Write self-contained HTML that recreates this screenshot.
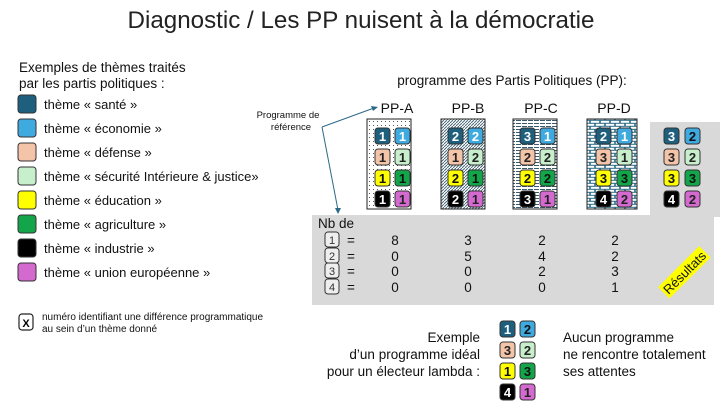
<!DOCTYPE html>
<html><head><meta charset="utf-8"><style>
html,body{margin:0;padding:0;background:#fff;}
svg{display:block;font-family:"Liberation Sans",Arial,sans-serif;}
</style></head><body>
<svg width="720" height="405" viewBox="0 0 720 405" xmlns="http://www.w3.org/2000/svg">
<defs>
<pattern id="dots" width="4" height="4" patternUnits="userSpaceOnUse"><rect width="4" height="4" fill="#fff"/><rect x="1" y="1" width="1" height="1" fill="#555"/></pattern>
<pattern id="diag" width="3" height="3" patternUnits="userSpaceOnUse"><rect width="3" height="3" fill="#fff"/><path d="M0,3 L3,0" stroke="#4a6a7a" stroke-width="1"/></pattern>
<pattern id="horiz" width="6" height="3" patternUnits="userSpaceOnUse"><rect width="6" height="3" fill="#fff"/><rect y="0" width="5" height="1" fill="#3a5a6e"/></pattern>
<pattern id="brick" width="10" height="6" patternUnits="userSpaceOnUse"><rect width="10" height="6" fill="#2b6a86"/><rect x="0.8" y="0.8" width="8.4" height="2" fill="#fff"/><rect x="5.8" y="3.8" width="8.4" height="2" fill="#fff"/><rect x="-4.2" y="3.8" width="8.4" height="2" fill="#fff"/></pattern>
</defs>
<rect width="720" height="405" fill="#fff"/>
<text x="361" y="28" font-size="24" text-anchor="middle" textLength="467" lengthAdjust="spacingAndGlyphs" fill="#222">Diagnostic / Les PP nuisent à la démocratie</text>

<text x="19" y="72" font-size="13.5" fill="#111">Exemples de thèmes traités</text>
<text x="19" y="88" font-size="13.5" fill="#111">par les partis politiques :</text>
<g font-size="13" fill="#111" stroke="#333" stroke-width="1">
<rect x="18" y="95" width="18" height="18" rx="3" fill="#1d5f7d"/>
<rect x="18" y="119" width="18" height="18" rx="3" fill="#3eaadf"/>
<rect x="18" y="143" width="18" height="18" rx="3" fill="#f3c4a8"/>
<rect x="18" y="167" width="18" height="18" rx="3" fill="#c8efcc"/>
<rect x="18" y="191" width="18" height="18" rx="3" fill="#ffff00"/>
<rect x="18" y="215" width="18" height="18" rx="3" fill="#12a54a"/>
<rect x="18" y="239" width="18" height="18" rx="3" fill="#000"/>
<rect x="18" y="263" width="18" height="18" rx="3" fill="#d46ad0"/>
</g>
<g font-size="13" fill="#111">
<text x="44" y="109">thème « santé »</text>
<text x="44" y="133">thème « économie »</text>
<text x="44" y="157">thème « défense »</text>
<text x="44" y="181">thème « sécurité Intérieure &amp; justice»</text>
<text x="44" y="205">thème « éducation »</text>
<text x="44" y="229">thème « agriculture »</text>
<text x="44" y="253">thème « industrie »</text>
<text x="44" y="277">thème « union européenne »</text>
</g>
<rect x="19" y="314" width="14" height="16" rx="3" fill="#fff" stroke="#222" stroke-width="1.2"/>
<text x="26" y="327" font-size="11" font-weight="bold" text-anchor="middle">X</text>
<text x="42" y="320" font-size="10" fill="#111">numéro identifiant une différence programmatique</text>
<text x="42" y="332" font-size="10" fill="#111">au sein d’un thème donné</text>

<text x="512" y="85" font-size="13.5" text-anchor="middle" fill="#111">programme des Partis Politiques (PP):</text>
<g font-size="14" text-anchor="middle" fill="#111">
<text x="397" y="113">PP-A</text><text x="468" y="113">PP-B</text><text x="541" y="113">PP-C</text><text x="614" y="113">PP-D</text>
</g>
<text x="288" y="118" font-size="9.5" text-anchor="middle" fill="#111">Programme de</text>
<text x="291" y="130" font-size="9.5" text-anchor="middle" fill="#111">référence</text>
<path d="M322,127 L374,108 M322,127 L338,210" stroke="#2b6a86" stroke-width="1" fill="none"/>
<path d="M378,107 L371,106 L373,111Z M338,214 L335,208 L341,208Z" fill="#2b6a86"/>

<rect x="650" y="122" width="70" height="95" fill="#d9d9d9"/>
<rect x="312" y="215" width="402" height="90" fill="#d9d9d9"/>

<rect x="367" y="119" width="44" height="90" fill="url(#dots)" stroke="#222"/>
<rect x="441" y="119" width="44" height="90" fill="url(#diag)" stroke="#222"/>
<rect x="513" y="119" width="44" height="90" fill="url(#horiz)" stroke="#222"/>
<rect x="587" y="119" width="50" height="90" fill="url(#brick)" stroke="#222"/>

<g id="tiles" font-size="13" font-weight="bold" text-anchor="middle" stroke-width="1">
</g>

<g font-size="13.5" fill="#111">
<text x="318" y="228">Nb de</text>
</g>
<g font-size="11" text-anchor="middle" fill="#333">
<rect x="325" y="232" width="14" height="15" rx="3" fill="#eee" stroke="#333"/><text x="332" y="244">1</text>
<rect x="325" y="248" width="14" height="15" rx="3" fill="#eee" stroke="#333"/><text x="332" y="260">2</text>
<rect x="325" y="263" width="14" height="15" rx="3" fill="#eee" stroke="#333"/><text x="332" y="275">3</text>
<rect x="325" y="279" width="14" height="15" rx="3" fill="#eee" stroke="#333"/><text x="332" y="291">4</text>
</g>
<g font-size="13.5" text-anchor="middle" fill="#111">
<text x="351" y="245">=</text><text x="395" y="245">8</text><text x="468" y="245">3</text><text x="542" y="245">2</text><text x="615" y="245">2</text>
<text x="351" y="261">=</text><text x="395" y="261">0</text><text x="468" y="261">5</text><text x="542" y="261">4</text><text x="615" y="261">2</text>
<text x="351" y="276">=</text><text x="395" y="276">0</text><text x="468" y="276">0</text><text x="542" y="276">2</text><text x="615" y="276">3</text>
<text x="351" y="292">=</text><text x="395" y="292">0</text><text x="468" y="292">0</text><text x="542" y="292">0</text><text x="615" y="292">1</text>
</g>
<g transform="translate(685,273) rotate(-45)">
<rect x="-29" y="-9" width="58" height="16" fill="#ffff00"/>
<text x="0" y="4" font-size="13" text-anchor="middle" fill="#111">Résultats</text>
</g>

<g font-size="13.5" text-anchor="end" fill="#111">
<text x="480" y="342">Exemple</text>
<text x="480" y="359">d’un programme idéal</text>
<text x="480" y="376">pour un électeur lambda :</text>
</g>
<g font-size="13.5" fill="#111">
<text x="563" y="342">Aucun programme</text>
<text x="563" y="359">ne rencontre totalement</text>
<text x="563" y="376">ses attentes</text>
</g>
</svg>
<script>
var C=[["#1d5f7d","#3eaadf"],["#f3c4a8","#c8efcc"],["#ffff00","#12a54a"],["#000","#d46ad0"]];
var TC=[["#fff","#fff"],["#222","#222"],["#111","#111"],["#fff","#222"]];
var g=document.getElementById("tiles");
function tile(x,y,c,t,n){
 var r=document.createElementNS("http://www.w3.org/2000/svg","rect");
 r.setAttribute("x",x);r.setAttribute("y",y);r.setAttribute("width",15);r.setAttribute("height",16);r.setAttribute("rx",3);
 r.setAttribute("fill",c);r.setAttribute("stroke","#333");g.appendChild(r);
 var s=document.createElementNS("http://www.w3.org/2000/svg","text");
 s.setAttribute("x",x+7.5);s.setAttribute("y",y+13);s.setAttribute("fill",t);s.textContent=n;g.appendChild(s);
}
function block(x0,x1,ys,d,tc){
 for(var i=0;i<4;i++){tile(x0,ys[i],C[i][0],tc?tc[i][0]:TC[i][0],d[i][0]);tile(x1,ys[i],C[i][1],tc?tc[i][1]:TC[i][1],d[i][1]);}
}
var Y=[128,149,170,191];
block(375,395,Y,[[1,1],[1,1],[1,1],[1,1]]);
block(448,468,Y,[[2,2],[1,2],[2,1],[2,1]]);
block(520,540,Y,[[3,1],[2,2],[2,2],[3,1]]);
block(596,617,Y,[[2,1],[3,1],[3,3],[4,2]]);
var T2=[["#fff","#111"],["#222","#222"],["#111","#111"],["#fff","#222"]];
block(664,685,Y,[[3,2],[3,2],[3,3],[4,2]],T2);
block(500,520,[321,342,363,384],[[1,2],[3,2],[1,3],[4,1]],T2);
</script>
</body></html>
